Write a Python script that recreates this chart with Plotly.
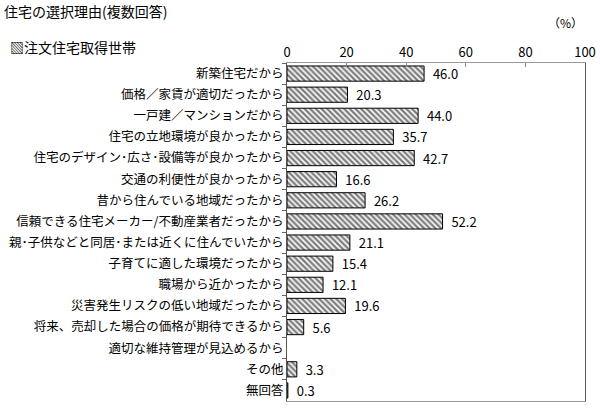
import plotly.graph_objects as go

title_text = '住宅の選択理由(複数回答)'
series_name = '注文住宅取得世帯'

reasons = [
    '新築住宅だから',
    '価格／家賃が適切だったから',
    '一戸建／マンションだから',
    '住宅の立地環境が良かったから',
    '住宅のデザイン･広さ･設備等が良かったから',
    '交通の利便性が良かったから',
    '昔から住んでいる地域だったから',
    '信頼できる住宅メーカー/不動産業者だったから',
    '親･子供などと同居･または近くに住んでいたから',
    '子育てに適した環境だったから',
    '職場から近かったから',
    '災害発生リスクの低い地域だったから',
    '将来、売却した場合の価格が期待できるから',
    '適切な維持管理が見込めるから',
    'その他',
    '無回答',
]
share = [46.0, 20.3, 44.0, 35.7, 42.7, 16.6, 26.2, 52.2, 21.1, 15.4, 12.1, 19.6, 5.6, None, 3.3, 0.3]

x_ticks = [0, 20, 40, 60, 80, 100]

font_jp = 'Noto Sans CJK JP'

fig = go.Figure()

fig.add_trace(go.Bar(
    y=reasons,
    x=share,
    orientation='h',
    name=series_name,
    marker=dict(
        color='white',
        line=dict(color='black', width=1),
        pattern=dict(shape='\\', fgcolor='black', bgcolor='white', size=4, solidity=0.6),
    ),
    texttemplate='\u00a0\u00a0%{x:.1f}',
    textposition='outside',
    constraintext='none',
    textfont=dict(size=13, color='black', family=font_jp),
    cliponaxis=False,
    width=0.72,
    showlegend=False,
))

fig.update_xaxes(
    side='top',
    range=[0, 100],
    tickvals=x_ticks,
    ticks='inside',
    ticklen=4,
    tickcolor='#888',
    showgrid=False,
    showline=True,
    linecolor='#999',
    linewidth=1,
    mirror=True,
    tickfont=dict(size=13, color='black', family=font_jp),
    zeroline=False,
    automargin=False,
    fixedrange=True,
)
fig.update_yaxes(
    type='category',
    autorange='reversed',
    ticks='outside',
    tickson='boundaries',
    ticklen=4,
    tickcolor='#666',
    showgrid=False,
    showline=True,
    linecolor='#555',
    linewidth=1,
    mirror=True,
    tickfont=dict(size=12.5, color='black', family=font_jp),
    automargin=False,
    fixedrange=True,
)

fig.update_layout(
    width=600,
    height=417,
    margin=dict(l=287, r=15, t=63, b=16),
    plot_bgcolor='white',
    paper_bgcolor='white',
    bargap=0.28,
    annotations=[
        dict(text=title_text, xref='paper', yref='paper', x=-0.955, y=1.154,
             xanchor='left', yanchor='middle', showarrow=False,
             font=dict(size=14, color='black', family=font_jp)),
        dict(text='▧' + series_name, xref='paper', yref='paper', x=-0.935, y=1.047,
             xanchor='left', yanchor='middle', showarrow=False,
             font=dict(size=14, color='black', family=font_jp)),
        dict(text='（%）', xref='paper', yref='paper', x=1.0, y=1.12,
             xanchor='right', yanchor='middle', showarrow=False,
             font=dict(size=12, color='black', family=font_jp)),
    ],
)

# page has a default 8px body margin; drop it so the figure fills the window
fig.write_html('out.html', config={'displayModeBar': False},
               post_script="document.body.style.margin='0';")
